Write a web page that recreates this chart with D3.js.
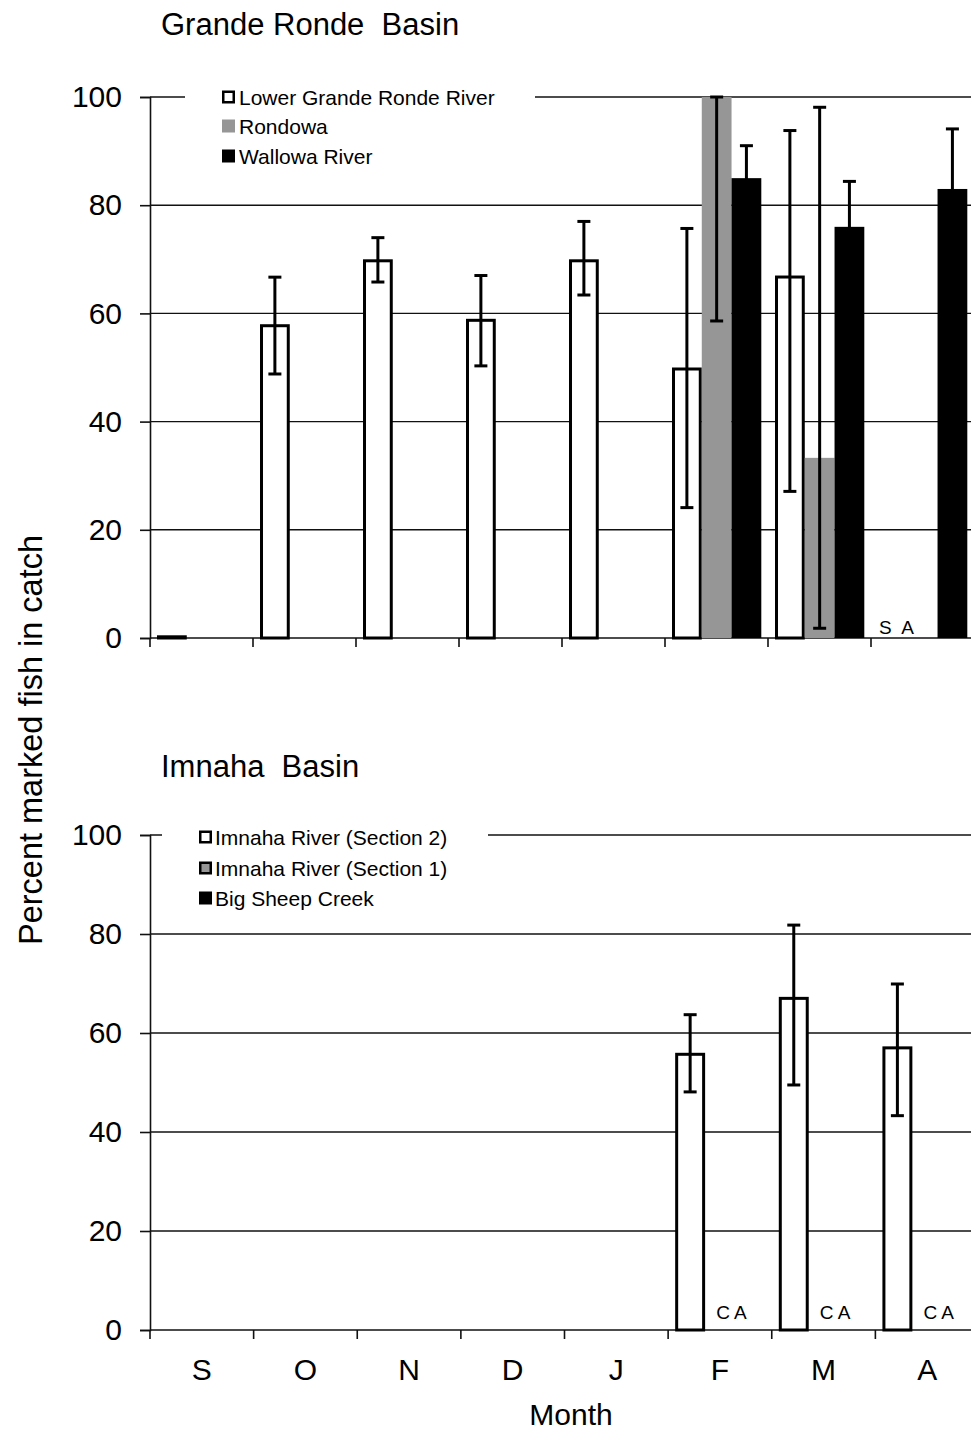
<!DOCTYPE html>
<html>
<head>
<meta charset="utf-8">
<script src="https://cdn.jsdelivr.net/npm/d3@7"></script>
<style>
  html, body { margin: 0; padding: 0; background: #fff; }
  svg text { font-family: "Liberation Sans", Arial, sans-serif; fill: #000; white-space: pre; }
</style>
</head>
<body>
<svg id="chart" width="971" height="1433"></svg>
<script>
// Months on the x axis (September to April)
const months = ["S", "O", "N", "D", "J", "F", "M", "A"];
const yTicks = [0, 20, 40, 60, 80, 100];

// Grande Ronde Basin: percent marked fish, with error bar limits
const grSeries = ["Lower Grande Ronde River", "Rondowa", "Wallowa River"];
const grLowerGR   = [0.5, 58, 70, 59, 70, 50, 67, null];
const grLowerGRHi = [null, 66.7, 74, 67, 77, 75.7, 93.8, null];
const grLowerGRLo = [null, 48.8, 65.8, 50.3, 63.4, 24.1, 27.1, null];
const grRondowa   = [null, null, null, null, null, 100, 33.3, null];
const grRondowaHi = [null, null, null, null, null, 100, 98.1, null];
const grRondowaLo = [null, null, null, null, null, 58.6, 1.8, null];
const grWallowa   = [null, null, null, null, null, 85, 76, 83];
const grWallowaHi = [null, null, null, null, null, 91, 84.4, 94.1];
const grWallowaLo = [null, null, null, null, null, 79, 67.6, 71.9];
const grNotes = [{ month: "A", text: "S  A" }];

// Imnaha Basin
const imSeries = ["Imnaha River (Section 2)", "Imnaha River (Section 1)", "Big Sheep Creek"];
const imSec2   = [null, null, null, null, null, 56, 67.3, 57.3];
const imSec2Hi = [null, null, null, null, null, 63.7, 81.8, 69.9];
const imSec2Lo = [null, null, null, null, null, 48.1, 49.5, 43.3];
const imSec1   = [null, null, null, null, null, null, null, null];
const imSheep  = [null, null, null, null, null, null, null, null];
const imNotes = [{ month: "F", text: "C A" }, { month: "M", text: "C A" }, { month: "A", text: "C A" }];

const seriesFill = ["#ffffff", "#969696", "#000000"];

const svg = d3.select("#chart");

function buildSeries(names, vals, his, los) {
  return names.map((name, i) => ({
    name,
    idx: i,
    values: months.map((m, j) => ({
      month: m,
      v: vals[i][j],
      hi: his[i] ? his[i][j] : null,
      lo: los[i] ? los[i][j] : null
    }))
  }));
}

function drawPanel(cfg) {
  const g = svg.append("g");
  const x0 = d3.scaleBand().domain(months).range(cfg.xRange).paddingInner(0).paddingOuter(0);
  const bw = x0.bandwidth();
  const x1 = d3.scaleBand().domain(d3.range(3)).range([bw * 0.068, bw * 0.935]).padding(0);
  const y = d3.scaleLinear().domain([0, 100]).range(cfg.yRange);

  // horizontal gridlines
  g.append("g").selectAll("line").data(yTicks.filter(t => t > 0)).join("line")
    .attr("x1", cfg.xRange[0]).attr("x2", cfg.xRange[1])
    .attr("y1", d => y(d)).attr("y2", d => y(d))
    .attr("stroke", "#111").attr("stroke-width", 1.4);

  // y axis
  const yAxis = d3.axisLeft(y).tickValues(yTicks).tickSize(10).tickPadding(18).tickFormat(d3.format("d"));
  const ya = g.append("g").attr("transform", `translate(${cfg.xRange[0]},0)`).call(yAxis);
  ya.select(".domain").attr("stroke", "#111").attr("stroke-width", 1.6);
  ya.selectAll(".tick line").attr("stroke", "#111").attr("stroke-width", 1.6);
  ya.selectAll(".tick text").attr("font-size", 30).attr("fill", "#000")
    .style("font-family", '"Liberation Sans", Arial, sans-serif');

  // x axis with ticks at month boundaries
  const xa = g.append("g").attr("transform", `translate(0,${cfg.yRange[0]})`);
  xa.append("line").attr("x1", cfg.xRange[0]).attr("x2", cfg.xRange[1])
    .attr("y1", 0).attr("y2", 0).attr("stroke", "#111").attr("stroke-width", 1.6);
  const bounds = months.map(m => x0(m)).concat([cfg.xRange[1]]);
  xa.selectAll("line.tk").data(bounds).join("line").attr("class", "tk")
    .attr("x1", d => d).attr("x2", d => d).attr("y1", 0).attr("y2", 9)
    .attr("stroke", "#111").attr("stroke-width", 1.6);
  if (cfg.showMonths) {
    xa.selectAll("text").data(months).join("text")
      .attr("x", d => x0(d) + bw / 2).attr("y", 50)
      .attr("text-anchor", "middle").attr("font-size", 30).text(d => d);
  }

  // bars
  const series = cfg.series;
  const barG = g.append("g");
  series.forEach(s => {
    const pts = s.values.filter(d => d.v != null);
    barG.selectAll(null).data(pts).join("rect")
      .attr("x", d => x0(d.month) + x1(s.idx) + (s.idx === 0 ? 1.5 : 0))
      .attr("width", x1.bandwidth() - (s.idx === 0 ? 3 : 0))
      .attr("y", d => y(d.v) + (s.idx === 0 ? 1.5 : 0))
      .attr("height", d => Math.max(0, y(0) - y(d.v) - (s.idx === 0 ? 1.5 : 0)))
      .attr("fill", seriesFill[s.idx])
      .attr("stroke", s.idx === 0 ? "#000" : "none")
      .attr("stroke-width", 3);
  });

  // error bars
  const errG = g.append("g").attr("stroke", "#000").attr("stroke-width", 3);
  series.forEach(s => {
    const pts = s.values.filter(d => d.v != null && d.hi != null);
    pts.forEach(d => {
      const cx = x0(d.month) + x1(s.idx) + x1.bandwidth() / 2;
      errG.append("line").attr("x1", cx).attr("x2", cx).attr("y1", y(d.lo)).attr("y2", y(d.hi));
      [d.lo, d.hi].forEach(v => {
        errG.append("line").attr("x1", cx - 6.5).attr("x2", cx + 6.5).attr("y1", y(v)).attr("y2", y(v));
      });
    });
  });

  // annotations near the baseline
  g.selectAll("text.note").data(cfg.notes).join("text").attr("class", "note")
    .attr("x", d => x0(d.month) + cfg.noteDx).attr("y", cfg.yRange[0] + cfg.noteDy)
    .attr("font-size", 19).text(d => d.text);

  // legend (white box hides the gridline behind it)
  const lg = g.append("g");
  lg.append("rect").attr("x", cfg.legend.x).attr("y", cfg.legend.y)
    .attr("width", cfg.legend.w).attr("height", cfg.legend.h).attr("fill", "#fff");
  series.forEach((s, i) => {
    const cy = cfg.legend.rowY[i];
    const bordered = s.idx === 0 || cfg.legend.borderAll;
    lg.append("rect")
      .attr("x", cfg.legend.sx + (bordered ? 1.25 : 0)).attr("y", cy - 6.5 + (bordered ? 1.25 : 0))
      .attr("width", 13 - (bordered ? 2.5 : 0)).attr("height", 13 - (bordered ? 2.5 : 0))
      .attr("fill", seriesFill[s.idx])
      .attr("stroke", bordered ? "#000" : "none").attr("stroke-width", 2.5);
    lg.append("text").attr("x", cfg.legend.tx).attr("y", cy + 7.5)
      .attr("font-size", 21).text(s.name);
  });

  // panel title
  svg.append("text").attr("x", cfg.title.x).attr("y", cfg.title.y)
    .attr("font-size", 31).text(cfg.title.text);
}

drawPanel({
  xRange: [150, 974],
  yRange: [638, 97],
  showMonths: false,
  series: buildSeries(grSeries,
    [grLowerGR, grRondowa, grWallowa],
    [grLowerGRHi, grRondowaHi, grWallowaHi],
    [grLowerGRLo, grRondowaLo, grWallowaLo]),
  notes: grNotes, noteDx: 8, noteDy: -4,
  legend: { x: 185, y: 82, w: 350, h: 88, sx: 222, tx: 239, rowY: [97, 126, 156], borderAll: false },
  title: { x: 161, y: 35, text: "Grande Ronde  Basin" }
});

drawPanel({
  xRange: [150, 979],
  yRange: [1330, 835],
  showMonths: true,
  series: buildSeries(imSeries,
    [imSec2, imSec1, imSheep],
    [imSec2Hi, null, null],
    [imSec2Lo, null, null]),
  notes: imNotes, noteDx: 48, noteDy: -11,
  legend: { x: 162, y: 821, w: 326, h: 90, sx: 199, tx: 215, rowY: [837, 868, 898], borderAll: true },
  title: { x: 161, y: 777, text: "Imnaha  Basin" }
});

// shared axis titles
svg.append("text").attr("x", 571).attr("y", 1425).attr("text-anchor", "middle")
  .attr("font-size", 30).text("Month");
svg.append("text").attr("transform", "translate(42,740) rotate(-90)")
  .attr("text-anchor", "middle").attr("font-size", 32.5).text("Percent marked fish in catch");
</script>
</body>
</html>
